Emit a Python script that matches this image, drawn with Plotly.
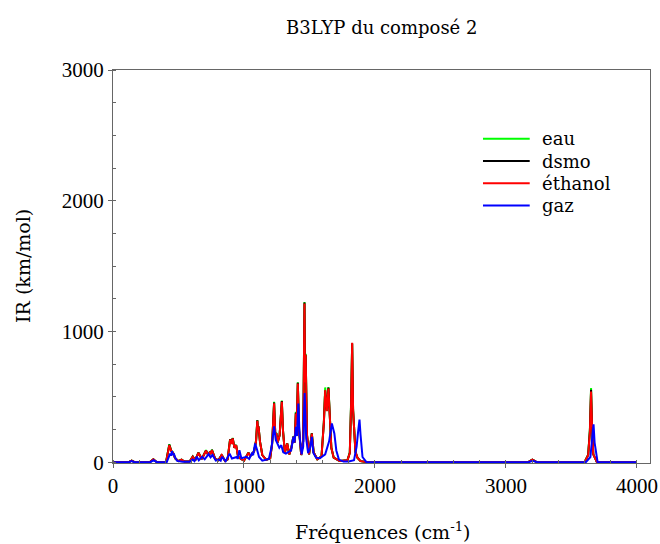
import plotly.graph_objects as go

# Solvent series share frequency vertices (cm-1)
freq_solv = [0, 120, 142, 165, 280, 308, 335, 405, 430, 445, 458, 475, 500, 523, 545, 585,
             609, 628, 652, 678, 710, 728, 741, 748, 755, 780, 805, 830, 855, 875, 894, 904,
             914, 927, 940, 955, 975, 1000, 1034, 1048, 1062, 1078, 1092, 1102, 1106, 1111,
             1122, 1140, 1170, 1200, 1215, 1230, 1239, 1247, 1257, 1272, 1289, 1298, 1312,
             1330, 1346, 1362, 1377, 1387, 1396, 1403, 1411, 1421, 1437, 1452, 1462, 1466,
             1471, 1481, 1497, 1518, 1532, 1560, 1592, 1610, 1620, 1633, 1645, 1655, 1667,
             1685, 1730, 1790, 1808, 1818, 1826, 1833, 1841, 1851, 1866, 1890, 1950, 3170,
             3202, 3235, 3600, 3628, 3641, 3650, 3657, 3667, 3695, 4000]

ir_ethanol = [0, 0, 12, 0, 0, 22, 0, 0, 130, 85, 72, 30, 8, 20, 5, 5,
              42, 15, 72, 25, 88, 52, 80, 62, 92, 25, 15, 55, 10, 22, 173, 140,
              182, 110, 130, 42, 28, 12, 72, 48, 60, 85, 160, 316, 255, 272,
              160, 55, 18, 30, 140, 450, 210, 222, 150, 205, 462, 240, 75,
              143, 60, 110, 194, 150, 372, 290, 602, 240, 55, 160, 1214, 610,
              820, 210, 60, 219, 75, 22, 45, 300, 551, 390, 564, 300, 110,
              35, 10, 15, 70, 440, 913, 400, 245, 80, 35, 8, 0, 0,
              20, 0, 0, 55, 230, 540, 290, 60, 0, 0]

ir_eau = [0, 0, 12, 0, 0, 22, 0, 0, 137, 87, 74, 30, 8, 20, 5, 5,
          44, 15, 74, 25, 92, 52, 82, 62, 96, 25, 15, 57, 10, 22, 176, 142,
          186, 110, 132, 42, 28, 12, 74, 48, 60, 87, 165, 322, 258, 275,
          160, 55, 18, 30, 145, 462, 212, 225, 150, 208, 472, 242, 75,
          145, 60, 112, 198, 152, 385, 292, 612, 242, 55, 162, 1225, 615,
          830, 212, 60, 222, 75, 22, 45, 310, 572, 395, 575, 300, 110,
          35, 10, 15, 75, 470, 905, 400, 240, 80, 35, 8, 0, 0,
          20, 0, 0, 58, 250, 568, 290, 60, 0, 0]

ir_dsmo = [0, 0, 12, 0, 0, 22, 0, 0, 134, 86, 73, 30, 8, 20, 5, 5,
           43, 15, 73, 25, 90, 52, 81, 62, 94, 25, 15, 56, 10, 22, 175, 141,
           184, 110, 131, 42, 28, 12, 73, 48, 60, 86, 162, 320, 256, 274,
           160, 55, 18, 30, 142, 456, 211, 223, 150, 206, 467, 241, 75,
           144, 60, 111, 196, 151, 378, 291, 607, 241, 55, 161, 1222, 612,
           822, 211, 60, 220, 75, 22, 45, 305, 548, 392, 570, 300, 110,
           35, 10, 15, 72, 455, 910, 400, 242, 80, 35, 8, 0, 0,
           20, 0, 0, 56, 240, 555, 290, 60, 0, 0]

freq_gaz = [0, 120, 142, 165, 285, 310, 335, 410, 436, 443, 450, 458, 465, 472, 490, 530,
            585, 609, 622, 640, 655, 680, 700, 730, 745, 760, 785, 810, 822, 832, 860, 890,
            908, 945, 952, 965, 980, 1020, 1040, 1060, 1070, 1085, 1100, 1115, 1140, 1190,
            1210, 1230, 1243, 1255, 1270, 1285, 1300, 1320, 1340, 1360, 1377, 1385, 1397,
            1405, 1415, 1425, 1440, 1452, 1463, 1475, 1490, 1505, 1518, 1530, 1550, 1580,
            1620, 1650, 1671, 1680, 1690, 1705, 1725, 1760, 1800, 1840, 1860, 1872, 1882,
            1890, 1905, 1935, 3170, 3205, 3240, 3610, 3645, 3660, 3669, 3677, 3700, 4000]

ir_gaz = [0, 0, 8, 0, 0, 15, 0, 0, 66, 50, 85, 55, 66, 40, 10, 4,
          4, 20, 8, 42, 15, 41, 22, 62, 38, 55, 12, 20, 12, 41, 8, 66,
          28, 40, 25, 92, 30, 41, 25, 66, 55, 143, 95, 40, 12, 25,
          110, 275, 170, 140, 110, 130, 75, 65, 75, 90, 194, 150, 270,
          200, 449, 200, 60, 120, 530, 180, 70, 110, 194, 70, 35, 30,
          60, 160, 296, 245, 220, 90, 20, 5, 5, 15, 120, 240, 326,
          210, 40, 0, 0, 10, 0, 0, 40, 200, 290, 150, 0, 0]

legend_names = ["eau", "dsmo", "éthanol", "gaz"]
legend_colors = ["#00ff00", "#000000", "#ff0000", "#0000ff"]
series_x = [freq_solv, freq_solv, freq_solv, freq_gaz]
series_y = [ir_eau, ir_dsmo, ir_ethanol, ir_gaz]

chart_title = "B3LYP du composé 2"
x_title = "Fréquences (cm<sup>-1</sup>)"
y_title = "IR (km/mol)"

FONT = "Liberation Serif"
TEXT_FONT = "DejaVu Serif"

fig = go.Figure()
for name, xs, ys, col in zip(legend_names, series_x, series_y, legend_colors):
    fig.add_trace(go.Scatter(x=xs, y=ys, mode="lines", name=name, showlegend=False,
                             line=dict(color=col, width=2)))

shapes = []
annotations = []
leg_x0, leg_x1, leg_text_x = 0.689, 0.776, 0.795
leg_top, leg_step = 0.825, 0.0567
for i, (name, col) in enumerate(zip(legend_names, legend_colors)):
    yy = leg_top - i * leg_step
    shapes.append(dict(type="line", xref="paper", yref="paper",
                       x0=leg_x0, x1=leg_x1, y0=yy, y1=yy,
                       line=dict(color=col, width=2)))
    annotations.append(dict(text=name, xref="paper", yref="paper",
                            x=leg_text_x, y=yy, xanchor="left", yanchor="middle",
                            showarrow=False, font=dict(family=TEXT_FONT, size=18, color="#000000")))

annotations.append(dict(text=chart_title, xref="paper", yref="paper", x=0.5, y=1.107,
                        xanchor="center", yanchor="middle", showarrow=False,
                        font=dict(family=TEXT_FONT, size=18, color="#000000")))
annotations.append(dict(text=x_title, xref="paper", yref="paper", x=0.502, y=-0.172,
                        xanchor="center", yanchor="middle", showarrow=False,
                        font=dict(family=TEXT_FONT, size=19, color="#000000")))
annotations.append(dict(text=y_title, xref="paper", yref="paper", x=-0.168, y=0.501,
                        xanchor="center", yanchor="middle", showarrow=False, textangle=-90,
                        font=dict(family=TEXT_FONT, size=19, color="#000000")))

axis_common = dict(
    showline=True, linecolor="#666666", linewidth=1, mirror=True,
    showgrid=False, zeroline=False, automargin=False,
    ticks="outside", ticklen=4, tickcolor="#666666",
    tickfont=dict(family=FONT, size=21, color="#000000"),
)

fig.update_layout(
    width=660, height=544,
    margin=dict(l=113, r=10, t=70, b=81),
    paper_bgcolor="white", plot_bgcolor="white",
    font=dict(family=FONT, color="#000000"),
    shapes=shapes,
    annotations=annotations,
    showlegend=False,
)

fig.update_xaxes(
    range=[0, 4100], tickvals=[0, 1000, 2000, 3000, 4000],
    minor=dict(dtick=200, ticks="inside", ticklen=3, tickcolor="#666666"),
    **axis_common,
)
fig.update_yaxes(
    range=[-6, 3000], tickvals=[0, 1000, 2000, 3000],
    minor=dict(dtick=250, ticks="inside", ticklen=3, tickcolor="#666666"),
    **axis_common,
)

fig.write_html(
    "out.html",
    config={"displayModeBar": False},
    post_script="document.body.style.margin='0';document.body.style.overflow='hidden';",
)
